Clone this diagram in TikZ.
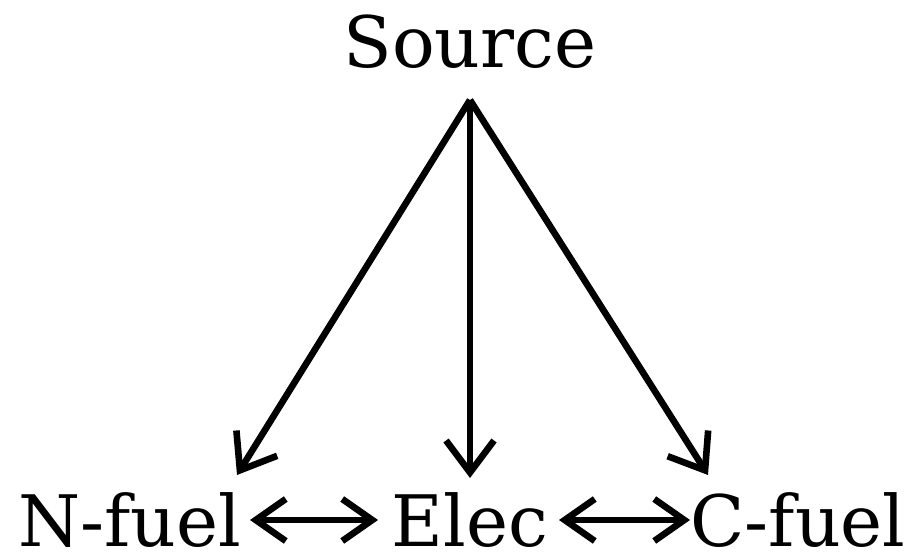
\documentclass[tikz,border=0pt]{standalone}
\usepackage{fontspec}
\setmainfont{DejaVu Serif}
\usetikzlibrary{arrows.meta}
\begin{document}
\begin{tikzpicture}[x=0.5pt,y=-0.5pt,
  lbl/.style={inner sep=0pt,anchor=base,text depth=0pt,font=\fontsize{35.5pt}{40pt}\selectfont},
  arr/.style={line width=3.3pt,-{Straight Barb[length=16pt,width=24pt,line width=3.3pt]}},
  darr/.style={line width=3.3pt,{Straight Barb[length=15pt,width=21pt,line width=3.3pt]}-{Straight Barb[length=15pt,width=21pt,line width=3.3pt]}}]
\useasboundingbox (0,0) rectangle (910,560);
\node[lbl] (src) at (470,68) {Source};
\node[lbl] (nf) at (130,546) {N-fuel};
\node[lbl] (el) at (470,546) {Elec};
\node[lbl] (cf) at (798,546) {C-fuel};
\coordinate (apex) at (470,100);
\coordinate (nft) at (237,475);
\coordinate (elt) at (470,478);
\coordinate (cft) at (708,475);
\coordinate (h1a) at (250,520);
\coordinate (h1b) at (378,520);
\coordinate (h2a) at (559,520);
\coordinate (h2b) at (690,520);
\draw[arr] (apex) -- (nft);
\draw[arr] (apex) -- (elt);
\draw[arr] (apex) -- (cft);
\draw[darr] (h1a) -- (h1b);
\draw[darr] (h2a) -- (h2b);
\end{tikzpicture}
\end{document}
